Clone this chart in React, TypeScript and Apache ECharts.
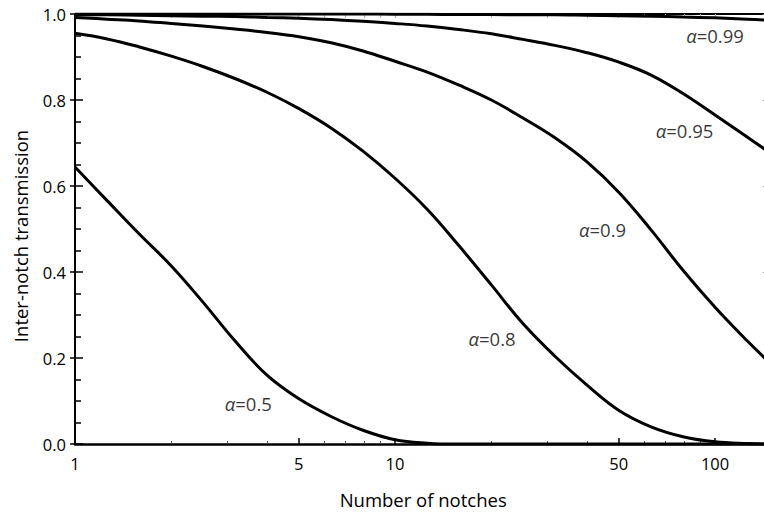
import React, { useEffect, useRef } from 'react';
import * as echarts from 'echarts';

// ---- data (transmission at each number of notches) ----
const notches = [1, 1.26, 1.58, 2, 2.51, 3.16, 3.98, 5.01, 6.31, 7.94, 10, 12.6, 15.8, 20, 25.1, 31.6, 39.8, 50.1, 63.1, 79.4, 100, 126, 150];

const transA050 = [0.644, 0.566, 0.49, 0.414, 0.33, 0.24, 0.16, 0.105, 0.064, 0.032, 0.01, 0.002, 0, 0, 0, 0, 0, 0, 0, 0, 0, 0, 0];
const transA080 = [0.955, 0.942, 0.924, 0.902, 0.878, 0.85, 0.818, 0.78, 0.735, 0.681, 0.618, 0.546, 0.462, 0.37, 0.28, 0.204, 0.137, 0.078, 0.04, 0.017, 0.005, 0.001, 0];
const transA090 = [0.992, 0.988, 0.984, 0.978, 0.972, 0.965, 0.957, 0.947, 0.933, 0.914, 0.89, 0.865, 0.835, 0.8, 0.758, 0.712, 0.656, 0.585, 0.498, 0.404, 0.318, 0.24, 0.185];
const transA095 = [0.998, 0.998, 0.997, 0.996, 0.995, 0.994, 0.992, 0.99, 0.987, 0.983, 0.978, 0.972, 0.964, 0.954, 0.941, 0.927, 0.91, 0.888, 0.858, 0.815, 0.765, 0.714, 0.675];
const transA099 = [1, 1, 1, 1, 1, 1, 1, 1, 1, 1, 0.9995, 0.9993, 0.999, 0.999, 0.998, 0.998, 0.997, 0.996, 0.995, 0.993, 0.991, 0.988, 0.985];

// curve annotations (alpha values) and where they sit
const alphaLabels = ['0.5', '0.8', '0.9', '0.95', '0.99'];
const alphaLabelNotches = [3.48, 20.1, 44.5, 80.3, 100];
const alphaLabelTrans = [0.095, 0.2465, 0.5, 0.73, 0.951];

// axis ticks
const xMajorTicks = [1, 5, 10, 50, 100];
const xMinorTicks = [2, 3, 4, 6, 7, 8, 9, 20, 30, 40, 60, 70, 80, 90];
const X_MIN = 1;
const X_MAX = 150;

const FONT = "'Open Sans', 'Noto Sans', sans-serif";

export default function App() {
  const ref = useRef<HTMLDivElement>(null);

  useEffect(() => {
    if (!ref.current) return;
    const chart = echarts.init(ref.current, null, { renderer: 'svg' });
    const lg = Math.log10;
    const majors = xMajorTicks.map((v) => lg(v));
    const minors = xMinorTicks.map((v) => lg(v));
    const allTicks = [...majors, ...minors];
    const lmin = lg(X_MIN);
    const lmax = lg(X_MAX);

    const pair = (ns: number[], ts: number[]) => ns.map((n, i) => [n, ts[i]]);
    const curves = [transA050, transA080, transA090, transA095, transA099];

    const series: any[] = curves.map((ts) => ({
      type: 'line',
      xAxisIndex: 0,
      yAxisIndex: 0,
      data: pair(notches, ts),
      showSymbol: false,
      symbol: 'none',
      smooth: 0.4,
      lineStyle: { color: '#000', width: 3 },
      z: 3,
    }));

    series.push({
      type: 'scatter',
      xAxisIndex: 0,
      yAxisIndex: 0,
      symbolSize: 1,
      itemStyle: { color: 'rgba(0,0,0,0)' },
      data: alphaLabels.map((name, i) => ({ name, value: [alphaLabelNotches[i], alphaLabelTrans[i]] })),
      label: {
        show: true,
        position: 'inside',
        formatter: (p: any) => `{a|α}=${p.name}`,
        color: '#000',
        fontFamily: FONT,
        fontSize: 18.5,
        rich: { a: { fontStyle: 'italic', fontFamily: FONT, fontSize: 18.5, color: '#000' } },
      },
      z: 5,
    });

    const nameStyle = { fontFamily: FONT, fontSize: 18.5, color: '#000' };
    const labelStyle = { fontFamily: FONT, fontSize: 16.5, color: '#000' };

    chart.setOption({
      animation: false,
      grid: { left: 75, right: -7.4, top: 14, bottom: 75, containLabel: false, outerBoundsMode: 'none' },
      xAxis: [
        {
          type: 'log',
          logBase: 10,
          min: X_MIN,
          max: X_MAX,
          position: 'bottom',
          axisLine: { show: true, onZero: false, lineStyle: { color: '#000', width: 2.5 } },
          axisTick: { show: false },
          axisLabel: { show: false },
          splitLine: { show: false },
          minorTick: { show: false },
          minorSplitLine: { show: false },
          name: 'Number of notches',
          nameLocation: 'middle',
          nameGap: 46,
          nameTextStyle: nameStyle,
        },
        {
          type: 'value',
          min: lmin,
          max: lmax,
          position: 'bottom',
          axisLine: { show: false, onZero: false },
          axisTick: { show: true, inside: true, length: 6, customValues: majors, lineStyle: { color: '#000', width: 1.5 } },
          axisLabel: {
            show: true,
            customValues: majors,
            formatter: (v: number) => String(Math.round(Math.pow(10, v))),
            margin: 11,
            ...labelStyle,
          },
          splitLine: { show: false },
        },
        {
          type: 'value',
          min: lmin,
          max: lmax,
          position: 'bottom',
          axisLine: { show: false, onZero: false },
          axisTick: { show: true, inside: true, length: 3, customValues: minors, lineStyle: { color: '#555', width: 1 } },
          axisLabel: { show: false },
          splitLine: { show: false },
        },
        {
          type: 'value',
          min: lmin,
          max: lmax,
          position: 'top',
          axisLine: { show: true, onZero: false, lineStyle: { color: '#000', width: 2 } },
          axisTick: { show: true, inside: true, length: 4, customValues: allTicks, lineStyle: { color: '#aaa', width: 1 } },
          axisLabel: { show: false },
          splitLine: { show: false },
        },
      ],
      yAxis: [
        {
          type: 'value',
          min: 0,
          max: 1,
          interval: 0.2,
          position: 'left',
          axisLine: { show: true, onZero: false, lineStyle: { color: '#000', width: 2 } },
          axisTick: { show: true, inside: true, length: 8, lineStyle: { color: '#000', width: 1.5 } },
          minorTick: { show: true, splitNumber: 4, length: 6, lineStyle: { color: '#000', width: 1.5 } },
          axisLabel: { formatter: (v: number) => v.toFixed(1), margin: 9, ...labelStyle },
          splitLine: { show: false },
          name: 'Inter-notch transmission',
          nameLocation: 'middle',
          nameGap: 45,
          nameTextStyle: { ...nameStyle, padding: [0, 14, 0, 0] },
        },
        {
          type: 'value',
          min: 0,
          max: 1,
          interval: 0.2,
          position: 'left',
          axisLine: { show: false, onZero: false },
          axisTick: { show: true, inside: false, length: 5, lineStyle: { color: '#000', width: 1.5 } },
          axisLabel: { show: false },
          splitLine: { show: false },
        },
        {
          type: 'value',
          min: 0,
          max: 1,
          interval: 0.2,
          position: 'right',
          axisLine: { show: true, onZero: false, lineStyle: { color: '#000', width: 2 } },
          axisTick: { show: true, inside: true, length: 8.5, lineStyle: { color: '#999', width: 1 } },
          axisLabel: { show: false },
          splitLine: { show: false },
        },
      ],
      series,
    });

    return () => {
      chart.dispose();
    };
  }, []);

  return (
    <div
      ref={ref}
      style={{ position: 'fixed', left: 0, top: 0, width: 764, height: 519, background: '#fff' }}
    />
  );
}
